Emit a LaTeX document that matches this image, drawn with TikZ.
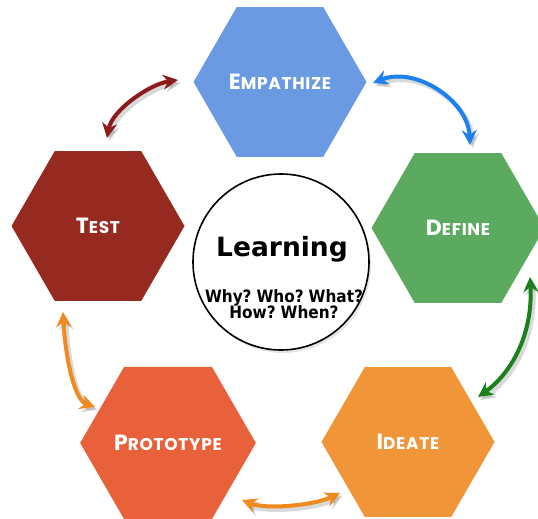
\documentclass[tikz,border=0pt]{standalone}
\usepackage{fontspec}
\setmainfont{DejaVu Sans}
\newfontfamily\hexfont{Poppins}[LetterSpace=4]
\newfontfamily\askfont{DejaVu Sans}[FakeStretch=0.9,WordSpace=0.6]
\usetikzlibrary{shapes.geometric,arrows.meta,calc}

\definecolor{empc}{HTML}{6A9BE2}
\definecolor{defc}{HTML}{5BAA5F}
\definecolor{idec}{HTML}{F09538}
\definecolor{proc}{HTML}{E8613A}
\definecolor{tesc}{HTML}{962A21}
\definecolor{arrred}{HTML}{8E1B1B}
\definecolor{arrblue}{HTML}{1C80EE}
\definecolor{arrgreen}{HTML}{1B7F1B}
\definecolor{arrorange}{HTML}{F08A1E}

% small-caps style label: large initial, smaller capitals
\newcommand\hexlabel[2]{{\fontsize{22}{22}\selectfont #1}{\fontsize{17}{17}\selectfont #2}}

\tikzset{
  hexa/.style={regular polygon, regular polygon sides=6, minimum size=173pt,
    inner sep=0pt, text=white, font=\hexfont\bfseries},
  tipx/.tip={Stealth[length=15pt,width=15pt,inset=5pt]},
  cyc/.style={line width=4pt, line cap=round, tipx-tipx,
    preaction={draw=black!60, opacity=0.25, line width=5pt,
      transform canvas={shift={(2.5pt,-3pt)}}}},
}

\begin{document}
\begin{tikzpicture}[x=1pt,y=-1pt]
\useasboundingbox (0,0) rectangle (538,519);
\clip (0,0) rectangle (538,519);

% the five stages
\node[hexa, fill=empc] (emp) at (280,82)  {\hexlabel{E}{MPATHIZE}};
\node[hexa, fill=defc] (def) at (458,228) {\hexlabel{D}{EFINE}};
\node[hexa, fill=idec] (ide) at (408,442) {\hexlabel{I}{DEATE}};
\node[hexa, fill=proc] (pro) at (168,443) {\hexlabel{P}{ROTOTYPE}};
\node[hexa, fill=tesc] (tes) at (98,226)  {\hexlabel{T}{EST}};

% centre circle
\node[circle, minimum size=176pt, fill=black!25, opacity=0.4] (lshadow) at (283,265) {};
\node[circle, draw, line width=1.6pt, minimum size=176pt, fill=white] (learn) at (281,262) {};
\node[anchor=base, font=\bfseries\fontsize{26.5}{26.5}\selectfont] (lt) at (282,256) {Learning};
\node[anchor=base, font=\askfont\bfseries\fontsize{17}{17}\selectfont, inner sep=0pt] (q1) at (284,302) {Why? Who? What?};
\node[anchor=base, font=\askfont\bfseries\fontsize{17}{17}\selectfont, inner sep=0pt] (q2) at (284,318) {How? When?};

% double-headed arrows between neighbouring stages
\draw[cyc, arrred]
  ($(tes.center)+(9,-88)$) .. controls +(5,-28) and +(-28,4) .. ($(emp.center)+(-102,-2)$);
\draw[cyc, arrblue]
  ($(emp.center)+(93,1)$) .. controls +(42,-17) and +(-2,-45) .. ($(def.center)+(12,-83)$);
\draw[cyc, arrgreen]
  ($(def.center)+(72,49)$) .. controls +(3,55) and +(35,-25) .. ($(ide.center)+(70,-45)$);
\draw[cyc, arrorange]
  ($(ide.center)+(-68,51)$) .. controls +(-25,12) and +(25,10) .. ($(pro.center)+(74,57)$);
\draw[cyc, arrorange]
  ($(pro.center)+(-73,-36)$) .. controls +(-22,-8) and +(2,40) .. ($(tes.center)+(-35,86)$);
\end{tikzpicture}
\end{document}
